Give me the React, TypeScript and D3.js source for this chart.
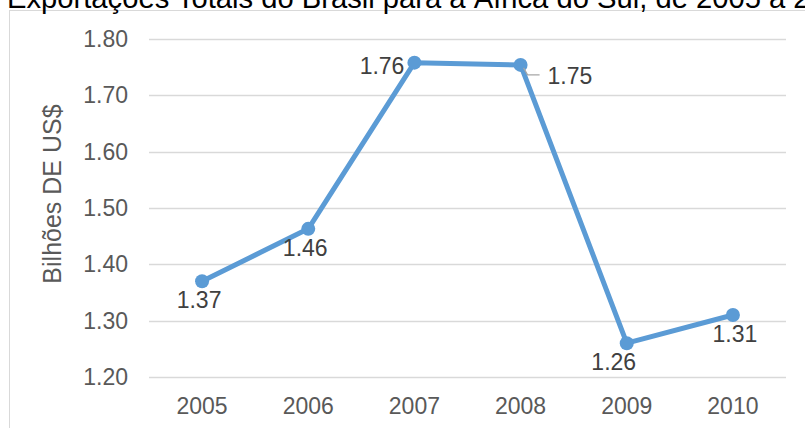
import { useEffect, useRef } from "react";
import * as d3 from "d3";

const WIDTH = 805;
const HEIGHT = 428;
const MARGINS = { LEFT: 149, RIGHT: 19, TOP: 39, BOTTOM: 51 };

const TITLE = "Exportações Totais do Brasil para a África do Sul, de 2005 a 2010";
const Y_LABEL = "Bilhões DE US$";
const years = ["2005", "2006", "2007", "2008", "2009", "2010"];
const exports = [1.37, 1.463, 1.758, 1.754, 1.26, 1.31];
const yTicks = [1.2, 1.3, 1.4, 1.5, 1.6, 1.7, 1.8];

// where each data label sits relative to its point
const labelPos = ["below", "below", "left", "right", "below-left", "below"];

const FONT = "'Liberation Sans', Arial, sans-serif";
const BLUE = "#5b9bd5";

const App = () => {
  const gRef = useRef<SVGGElement | null>(null);

  useEffect(() => {
    const g = d3.select(gRef.current);
    g.selectAll("*").remove();

    const x = d3
      .scalePoint<string>()
      .domain(years)
      .range([MARGINS.LEFT, WIDTH - MARGINS.RIGHT])
      .padding(0.5);
    const y = d3
      .scaleLinear()
      .domain([1.2, 1.8])
      .range([HEIGHT - MARGINS.BOTTOM, MARGINS.TOP]);

    // chart border
    g.append("rect")
      .attr("x", 9.5)
      .attr("y", 10.5)
      .attr("width", 820)
      .attr("height", 440)
      .attr("fill", "#fff")
      .attr("stroke", "#d9d9d9");

    // title (cut at the top, as in the source)
    g.append("text")
      .attr("x", 7)
      .attr("y", 8)
      .style("font-family", FONT)
      .style("font-size", "29.2px")
      .attr("fill", "#000")
      .text(TITLE);

    // gridlines
    g.selectAll(".grid")
      .data(yTicks)
      .join("line")
      .attr("x1", MARGINS.LEFT)
      .attr("x2", WIDTH - MARGINS.RIGHT)
      .attr("y1", (d) => Math.round(y(d)) + 0.5)
      .attr("y2", (d) => Math.round(y(d)) + 0.5)
      .attr("stroke", "#d9d9d9")
      .attr("stroke-width", 1.3);

    // y tick labels
    g.selectAll(".ytick")
      .data(yTicks)
      .join("text")
      .attr("x", 128)
      .attr("y", (d) => y(d) + 8)
      .attr("text-anchor", "end")
      .style("font-family", FONT)
      .style("font-size", "23px")
      .attr("fill", "#595959")
      .text((d) => d3.format(".2f")(d));

    // x tick labels
    g.selectAll(".xtick")
      .data(years)
      .join("text")
      .attr("x", (d) => x(d)!)
      .attr("y", 414)
      .attr("text-anchor", "middle")
      .style("font-family", FONT)
      .style("font-size", "23px")
      .attr("fill", "#595959")
      .text((d) => d);

    // axis title
    g.append("text")
      .attr("transform", `translate(61, ${194}) rotate(-90)`)
      .attr("text-anchor", "middle")
      .style("font-family", FONT)
      .style("font-size", "25px")
      .attr("fill", "#595959")
      .text(Y_LABEL);

    const data = years.map((yr, i) => ({ yr, v: exports[i], pos: labelPos[i] }));

    const line = d3
      .line<{ yr: string; v: number }>()
      .x((d) => x(d.yr)!)
      .y((d) => y(d.v));

    g.append("path")
      .datum(data)
      .attr("d", line)
      .attr("fill", "none")
      .attr("stroke", BLUE)
      .attr("stroke-width", 5)
      .attr("stroke-linejoin", "round");

    g.selectAll(".pt")
      .data(data)
      .join("circle")
      .attr("cx", (d) => x(d.yr)!)
      .attr("cy", (d) => y(d.v))
      .attr("r", 7)
      .attr("fill", BLUE);

    // leader line for the 2008 label
    const p8 = data[3];
    g.append("path")
      .attr(
        "d",
        `M${x(p8.yr)! + 3},${y(p8.v) + 3} L${x(p8.yr)! + 7},${y(p8.v) + 10} L${x(p8.yr)! + 19},${y(p8.v) + 10}`
      )
      .attr("fill", "none")
      .attr("stroke", "#a6a6a6")
      .attr("stroke-width", 1.2);

    g.selectAll(".lbl")
      .data(data)
      .join("text")
      .attr("x", (d) => {
        const cx = x(d.yr)!;
        if (d.pos === "left") return cx - 10;
        if (d.pos === "right") return cx + 27;
        if (d.pos === "below-left") return cx - 13;
        if (d.yr === "2005" || d.yr === "2006") return cx - 3;
        return cx + 2;
      })
      .attr("y", (d) => {
        const cy = y(d.v);
        if (d.pos === "left") return cy + 11;
        if (d.pos === "right") return cy + 19;
        return cy + 27;
      })
      .attr("text-anchor", (d) =>
        d.pos === "left" ? "end" : d.pos === "right" ? "start" : "middle"
      )
      .style("font-family", FONT)
      .style("font-size", "23px")
      .attr("fill", "#404040")
      .text((d) => d3.format(".2f")(d.v));
  }, []);

  return (
    <svg
      width={WIDTH}
      height={HEIGHT}
      style={{ position: "absolute", top: 0, left: 0, background: "#fff" }}
    >
      <g ref={gRef} />
    </svg>
  );
};

export default App;
